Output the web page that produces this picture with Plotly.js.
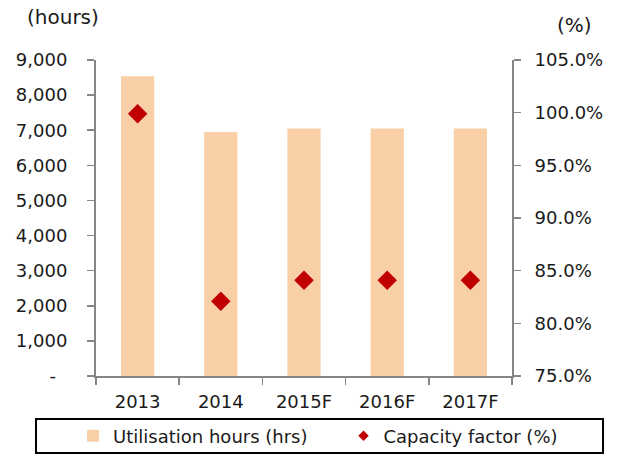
<!DOCTYPE html>
<html>
<head>
<meta charset="utf-8">
<script src="https://cdn.plot.ly/plotly-3.0.1.min.js"></script>
<style>html,body{margin:0;padding:0;background:#fff;}#chart{width:619px;height:454px;}</style>
</head>
<body>
<div id="chart"></div>
<script>
const categories = ['2013', '2014', '2015F', '2016F', '2017F'];
const utilisationHours = [8540, 6950, 7050, 7050, 7050];
const capacityFactor = [99.9, 82.1, 84.1, 84.1, 84.1];
const leftTickVals = [0, 1000, 2000, 3000, 4000, 5000, 6000, 7000, 8000, 9000];
const leftTickText = ['-\u00a0\u00a0', '1,000', '2,000', '3,000', '4,000', '5,000', '6,000', '7,000', '8,000', '9,000'];
const rightTickVals = [75, 80, 85, 90, 95, 100, 105];
const rightTickText = ['75.0%', '80.0%', '85.0%', '90.0%', '95.0%', '100.0%', '105.0%'];
const seriesNames = ['Utilisation hours (hrs)', 'Capacity factor (%)'];

const FONT = 'DejaVu Sans, sans-serif';
const AXIS = '#868686';
const BAR = '#F9CFA8';
const RED = '#C00000';
const TXT = '#1a1a1a';

const traces = [
  {
    type: 'bar', x: categories, y: utilisationHours, name: seriesNames[0],
    marker: {color: BAR}, yaxis: 'y', hoverinfo: 'none', legend: 'legend'
  },
  {
    type: 'scatter', mode: 'markers', x: categories, y: capacityFactor, name: seriesNames[1],
    marker: {symbol: 'diamond', size: 15, color: RED}, yaxis: 'y2', showlegend: false, hoverinfo: 'none'
  },
  {
    type: 'scatter', mode: 'markers', x: [null], y: [null], name: seriesNames[1],
    marker: {symbol: 'diamond', size: 8, color: RED}, yaxis: 'y2', showlegend: true, hoverinfo: 'none',
    legend: 'legend2'
  }
];

const legendCommon = {
  orientation: 'h', xanchor: 'left', yanchor: 'middle',
  bgcolor: 'rgba(0,0,0,0)', borderwidth: 0,
  font: {family: FONT, size: 18, color: TXT},
  itemclick: false, itemdoubleclick: false
};

const layout = {
  width: 619, height: 454,
  margin: {l: 96, r: 107, t: 60, b: 78, pad: 0, autoexpand: false},
  paper_bgcolor: '#ffffff', plot_bgcolor: '#ffffff',
  font: {family: FONT, size: 18, color: TXT},
  showlegend: true,
  bargap: 0.6,
  xaxis: {
    type: 'category', showgrid: false, zeroline: false,
    showline: true, linecolor: AXIS, linewidth: 2,
    ticks: 'outside', tickson: 'boundaries', ticklen: 7, tickwidth: 1.5, tickcolor: AXIS,
    ticklabelstandoff: 8,
    tickfont: {family: FONT, size: 18, color: TXT}
  },
  yaxis: {
    range: [0, 9000], tickvals: leftTickVals, ticktext: leftTickText,
    showgrid: false, zeroline: false,
    showline: true, linecolor: AXIS, linewidth: 2,
    ticks: 'outside', ticklen: 7, tickwidth: 1.5, tickcolor: AXIS,
    ticklabelstandoff: 16,
    tickfont: {family: FONT, size: 18, color: TXT}
  },
  yaxis2: {
    range: [75, 105], tickvals: rightTickVals, ticktext: rightTickText,
    overlaying: 'y', side: 'right', anchor: 'x',
    showgrid: false, zeroline: false,
    showline: true, linecolor: AXIS, linewidth: 2,
    ticks: 'outside', ticklen: 7, tickwidth: 1.5, tickcolor: AXIS,
    ticklabelstandoff: 10,
    tickfont: {family: FONT, size: 18, color: TXT}
  },
  legend: Object.assign({}, legendCommon, {x: -0.055, y: -0.19}),
  legend2: Object.assign({}, legendCommon, {x: 0.595, y: -0.19}),
  shapes: [
    {type: 'rect', xref: 'paper', yref: 'paper', x0: -0.1442, x1: 1.2188, y0: -0.2437, y1: -0.1361,
     line: {color: '#000000', width: 2}, fillcolor: 'rgba(0,0,0,0)', layer: 'above'}
  ],
  annotations: [
    {text: '(hours)', xref: 'paper', yref: 'paper', x: -0.0793, y: 1.136, xanchor: 'center', yanchor: 'middle',
     showarrow: false, font: {family: FONT, size: 20, color: TXT}},
    {text: '(%)', xref: 'paper', yref: 'paper', x: 1.151, y: 1.111, xanchor: 'center', yanchor: 'middle',
     showarrow: false, font: {family: FONT, size: 20, color: TXT}}
  ]
};

Plotly.newPlot('chart', traces, layout, {displayModeBar: false, staticPlot: true});
</script>
</body>
</html>
